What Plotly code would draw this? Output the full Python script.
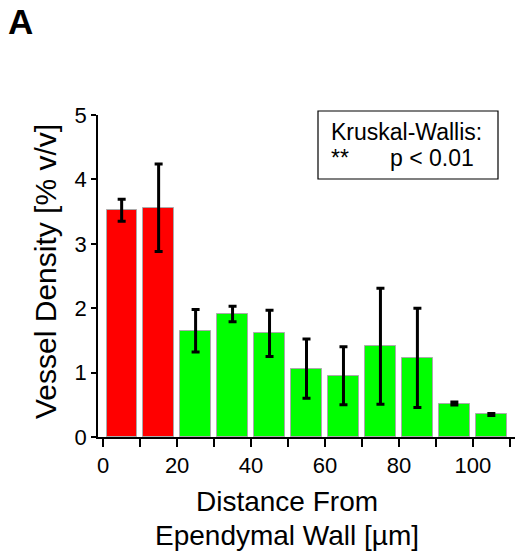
import plotly.graph_objects as go

# Data
distance_centers = [5, 15, 25, 35, 45, 55, 65, 75, 85, 95, 105]
vessel_density = [3.52, 3.56, 1.65, 1.91, 1.61, 1.06, 0.95, 1.41, 1.23, 0.52, 0.35]
error_sd = [0.17, 0.68, 0.33, 0.12, 0.36, 0.46, 0.45, 0.90, 0.77, 0.025, 0.015]
bar_colors = ["#ff0000", "#ff0000"] + ["#00ff00"] * 9
x_tick_vals = [0, 10, 20, 30, 40, 50, 60, 70, 80, 90, 100, 110]
x_tick_text = ["0", "", "20", "", "40", "", "60", "", "80", "", "100", ""]
y_tick_vals = [0, 1, 2, 3, 4, 5]
x_title_lines = ["Distance From", "Ependymal Wall [µm]"]
y_title = "Vessel Density [% v/v]"

FONT = "Liberation Sans, Arial, Helvetica, sans-serif"

fig = go.Figure()
fig.add_trace(go.Bar(
    x=distance_centers,
    y=vessel_density,
    width=8.2,
    marker=dict(color=bar_colors, line=dict(color="#aaaaaa", width=1)),
    error_y=dict(type="data", array=error_sd, visible=True,
                 color="black", thickness=3, width=4),
    showlegend=False,
))

W, H = 515, 554
L, R, T, B = 98, 0, 115, 117
pw, ph = W - L - R, H - T - B

def px(xp):
    return (xp - L) / pw

def py(yp):
    return (H - B - yp) / ph

fig.update_layout(
    width=W, height=H,
    margin=dict(l=L, r=R, t=T, b=B, autoexpand=False),
    paper_bgcolor="white", plot_bgcolor="white",
    font=dict(family=FONT, color="black", size=22),
    bargap=0,
)
fig.update_xaxes(
    range=[-1.4, 111.4], automargin=False,
    tickmode="array", tickvals=x_tick_vals, ticktext=x_tick_text,
    ticks="outside", ticklen=8, tickwidth=1.8, tickcolor="black",
    showline=True, linecolor="black", linewidth=1.8,
    showgrid=False, zeroline=False,
    tickfont=dict(size=22),
)
fig.update_yaxes(
    range=[0, 5], automargin=False,
    tickmode="array", tickvals=y_tick_vals,
    ticks="outside", ticklen=5, tickwidth=1.8, tickcolor="black",
    showline=True, linecolor="black", linewidth=1.8,
    showgrid=False, zeroline=False,
    tickfont=dict(size=22),
)

# Axis titles
fig.add_annotation(xref="paper", yref="paper", x=px(287), y=py(502),
                   xanchor="center", yanchor="middle", showarrow=False,
                   text=x_title_lines[0], font=dict(size=28))
fig.add_annotation(xref="paper", yref="paper", x=px(287), y=py(535),
                   xanchor="center", yanchor="middle", showarrow=False,
                   text=x_title_lines[1], font=dict(size=28))
fig.add_annotation(xref="paper", yref="paper", x=px(45), y=py(272),
                   xanchor="center", yanchor="middle", showarrow=False,
                   textangle=-90, text=y_title, font=dict(size=30))

# Statistics box
fig.add_shape(type="rect", xref="paper", yref="paper",
              x0=px(318), x1=px(498), y0=py(179), y1=py(111),
              line=dict(color="black", width=1.2), fillcolor="white", layer="above")
fig.add_annotation(xref="paper", yref="paper", x=px(329), y=py(132),
                   xanchor="left", yanchor="middle", showarrow=False,
                   text="Kruskal-Wallis:", font=dict(size=23))
fig.add_annotation(xref="paper", yref="paper", x=px(329), y=py(158),
                   xanchor="left", yanchor="middle", showarrow=False,
                   text="**", font=dict(size=23))
fig.add_annotation(xref="paper", yref="paper", x=px(388), y=py(158),
                   xanchor="left", yanchor="middle", showarrow=False,
                   text="p < 0.01", font=dict(size=23))

# Panel label
fig.add_annotation(xref="paper", yref="paper", x=px(6), y=py(21),
                   xanchor="left", yanchor="middle", showarrow=False,
                   text="<b>A</b>", font=dict(size=35))

fig.write_html(
    "out.html",
    config={"displayModeBar": False},
    post_script="document.body.style.margin='0px';document.body.style.overflow='hidden';",
)
